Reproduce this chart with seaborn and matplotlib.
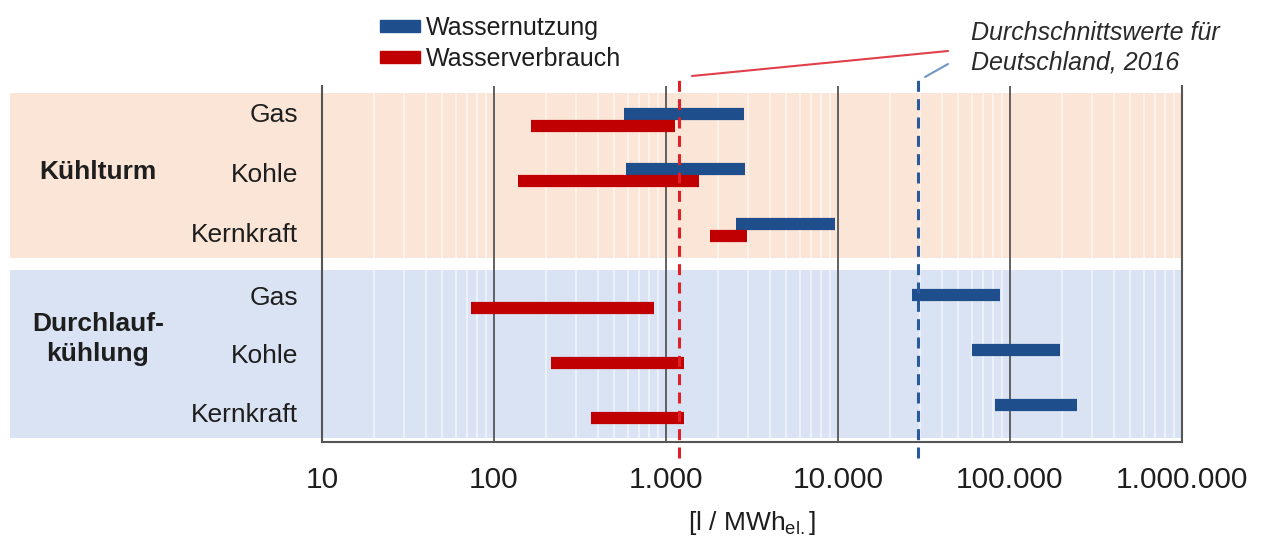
import pandas as pd
import seaborn as sns
import matplotlib.pyplot as plt
import matplotlib.ticker as mticker
from matplotlib.patches import Patch
from matplotlib.lines import Line2D

# --- data (l / MWh_el) ---
kuehlart = ['Kühlturm', 'Kühlturm', 'Kühlturm',
            'Durchlaufkühlung', 'Durchlaufkühlung', 'Durchlaufkühlung']
anlage = ['Gas', 'Kohle', 'Kernkraft', 'Gas', 'Kohle', 'Kernkraft']
nutzung_min = [570, 585, 2550, 26900, 60000, 82000]
nutzung_max = [2840, 2880, 9600, 87500, 195000, 245000]
verbrauch_min = [164, 138, 1800, 73.5, 214, 366]
verbrauch_max = [1130, 1560, 2960, 850, 1270, 1270]
mittel_verbrauch = 1190    # Durchschnitt Deutschland 2016
mittel_nutzung = 29200

tick_values = [10, 100, 1000, 10000, 100000, 1000000]
tick_labels = ['10', '100', '1.000', '10.000', '100.000', '1.000.000']

c_nutzung = '#1f4e8c'
c_verbrauch = '#c00000'
c_band_kt = '#fbe5d6'
c_band_dl = '#dae3f3'
c_grid = '#555555'
c_text = '#1e1e1e'

# row positions (upper group, gap, lower group)
row_pos = [0, 1, 2, 3.3, 4.3, 5.3]
off = 0.114
# label positions are spread a bit more evenly inside each band
label_pos = [-0.13, 0.95, 2.05, 3.18, 4.25, 5.31]

rows = []
for i in range(len(anlage)):
    for v in (nutzung_min[i], nutzung_max[i]):
        rows.append({'id': f'n{i}', 'reihe': 'Wassernutzung', 'wert': v, 'y': row_pos[i] - off})
    for v in (verbrauch_min[i], verbrauch_max[i]):
        rows.append({'id': f'v{i}', 'reihe': 'Wasserverbrauch', 'wert': v, 'y': row_pos[i] + off})
df = pd.DataFrame(rows)

sns.set_style('white')
plt.rcParams['font.family'] = ['Liberation Sans', 'DejaVu Sans']
plt.rcParams['mathtext.fontset'] = 'custom'
plt.rcParams['mathtext.rm'] = 'Liberation Sans'

W, H = 1264, 538
fig = plt.figure(figsize=(W / 100, H / 100), dpi=100)
ax = fig.add_axes([322 / W, 1 - 442 / H, 860 / W, 356 / H])

def fy(px):  # pixel from top -> figure fraction
    return 1 - px / H

# background bands, reaching left past the axes
ax.axhspan(-0.49, 2.51, xmin=-0.363, xmax=1, color=c_band_kt, lw=0, zorder=0.2, clip_on=False)
ax.axhspan(2.73, 5.78, xmin=-0.363, xmax=1, color=c_band_dl, lw=0, zorder=0.2, clip_on=False)

sns.lineplot(data=df, x='wert', y='y', hue='reihe', units='id', estimator=None, sort=False,
             palette={'Wassernutzung': c_nutzung, 'Wasserverbrauch': c_verbrauch},
             linewidth=8.8, solid_capstyle='butt', legend=False, ax=ax, zorder=3)

# average lines
ax.axvline(mittel_verbrauch, ymin=-0.045, ymax=1.025, color='#e02028', lw=2.2,
           dashes=(3.6, 2.4), clip_on=False, zorder=4)
ax.axvline(mittel_nutzung, ymin=-0.045, ymax=1.025, color='#2a5a9c', lw=2.2,
           dashes=(3.6, 2.4), clip_on=False, zorder=4)

ax.set_xscale('log')
ax.set_xlim(10, 1000000)
ax.set_ylim(5.85, -0.62)
ax.set_xticks(tick_values)
ax.set_xticklabels(tick_labels)
ax.xaxis.set_minor_locator(mticker.LogLocator(base=10, subs=range(2, 10), numticks=20))
ax.xaxis.set_minor_formatter(mticker.NullFormatter())
ax.tick_params(axis='x', which='both', length=0, pad=17, labelsize=21.5, colors=c_text)
ax.tick_params(axis='y', length=0, pad=17, labelsize=19, colors=c_text)
ax.set_yticks(label_pos)
ax.set_yticklabels(anlage)

ax.set_axisbelow(True)
ax.grid(False)
ax.grid(which='major', axis='x', color=c_grid, lw=1.3)
ax.grid(which='minor', axis='x', color='white', lw=1.1, alpha=0.65)
ax.set_facecolor('none')
for s in ['left', 'right', 'bottom']:
    ax.spines[s].set_color(c_grid)
    ax.spines[s].set_linewidth(1.5)
ax.spines['top'].set_visible(False)

ax.set_xlabel(r'[l / MWh$_{\mathrm{el.}}$]', fontsize=19, color=c_text, labelpad=11)
ax.set_ylabel('')

# group labels
fig.text(98 / W, fy(172), 'Kühlturm', ha='center', va='center', fontsize=19,
         fontweight='bold', color=c_text)
fig.text(98 / W, fy(339), 'Durchlauf-\nkühlung', ha='center', va='center', fontsize=19,
         fontweight='bold', color=c_text, linespacing=1.3)

# legend
handles = [Patch(color=c_nutzung, label='Wassernutzung'),
           Patch(color=c_verbrauch, label='Wasserverbrauch')]
fig.legend(handles=handles, loc='upper left', bbox_to_anchor=(380 / W, fy(16)),
           frameon=False, fontsize=18, handlelength=1.6, handleheight=0.4,
           handletextpad=0.25, labelspacing=0.28, borderpad=0, borderaxespad=0,
           labelcolor=c_text)

# annotation
fig.text(971 / W, fy(21), 'Durchschnittswerte für\nDeutschland, 2016', ha='left', va='top',
         fontsize=18, style='italic', color='#2a2a2a', linespacing=1.3)
fig.add_artist(Line2D([692 / W, 948 / W], [fy(76), fy(51)], color='#e0404a', lw=1.5))
fig.add_artist(Line2D([925 / W, 948 / W], [fy(77), fy(64)], color='#6f96c4', lw=1.5))

fig.savefig('out.png', dpi=100)
